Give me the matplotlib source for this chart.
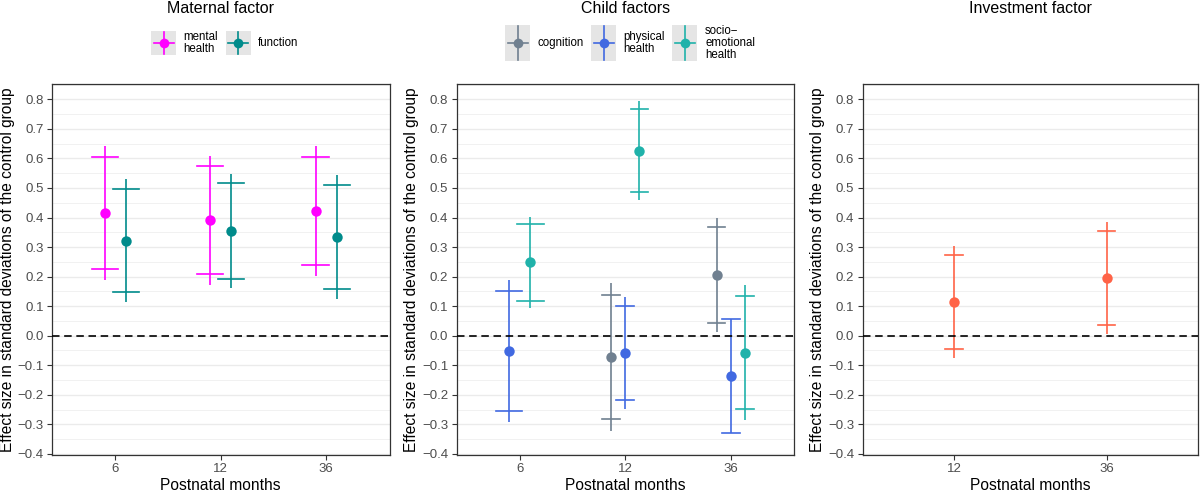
import matplotlib
matplotlib.use("Agg")
import matplotlib.pyplot as plt
from matplotlib.ticker import MultipleLocator

plt.rcParams['font.family'] = ['Liberation Sans', 'DejaVu Sans']

# ---------------- data ----------------
mat_months = ['6', '12', '36']
child_months = ['6', '12', '36']
inv_months = ['12', '36']

# Maternal factor
mental_est = [0.416, 0.391, 0.421]
mental_cap_lo = [0.225, 0.208, 0.238]
mental_cap_hi = [0.606, 0.573, 0.606]
mental_lo = [0.188, 0.173, 0.203]
mental_hi = [0.643, 0.609, 0.643]

function_est = [0.322, 0.353, 0.334]
function_cap_lo = [0.147, 0.191, 0.157]
function_cap_hi = [0.497, 0.516, 0.511]
function_lo = [0.115, 0.160, 0.124]
function_hi = [0.530, 0.547, 0.545]

# Child factors (None = not measured)
cognition_est = [None, -0.072, 0.205]
cognition_cap_lo = [None, -0.283, 0.044]
cognition_cap_hi = [None, 0.138, 0.367]
cognition_lo = [None, -0.322, 0.012]
cognition_hi = [None, 0.179, 0.397]

physical_est = [-0.052, -0.059, -0.136]
physical_cap_lo = [-0.256, -0.219, -0.330]
physical_cap_hi = [0.152, 0.102, 0.058]
physical_lo = [-0.293, -0.249, -0.330]
physical_hi = [0.189, 0.132, 0.058]

socio_est = [0.249, 0.626, -0.058]
socio_cap_lo = [0.119, 0.485, -0.249]
socio_cap_hi = [0.378, 0.768, 0.134]
socio_lo = [0.095, 0.459, -0.286]
socio_hi = [0.402, 0.795, 0.170]

# Investment factor
invest_est = [0.114, 0.195]
invest_cap_lo = [-0.046, 0.036]
invest_cap_hi = [0.274, 0.356]
invest_lo = [-0.077, 0.007]
invest_hi = [0.303, 0.384]

# colours
C_MENTAL = '#FF00FF'
C_FUNCTION = '#008B8B'
C_COG = '#708090'
C_PHYS = '#4169E1'
C_SOCIO = '#20B2AA'
C_INV = '#FF6347'

W, H = 1200, 491
fig = plt.figure(figsize=(W / 100, H / 100), dpi=100)


def px_axes(l, r, t, b):
    return fig.add_axes([l / W, (H - b) / H, (r - l) / W, (b - t) / H])


YT = [round(-0.4 + 0.1 * i, 1) for i in range(13)]


def style(ax, labels, xmax):
    ax.set_xlim(0.4, xmax)
    ax.set_ylim(-0.404, 0.852)
    ax.set_xticks(range(1, len(labels) + 1))
    ax.set_xticklabels(labels)
    ax.yaxis.set_minor_locator(MultipleLocator(0.05))
    ax.set_yticks(YT)
    ax.set_yticklabels([('%.1f' % v).replace('-', '\u2212') for v in YT])
    ax.grid(axis='y', which='major', color='#EBEBEB', lw=1.0, zorder=0)
    ax.grid(axis='y', which='minor', color='#EBEBEB', lw=0.5, zorder=0)
    ax.tick_params(axis='both', which='major', length=3.5, width=0.8,
                   color='#333333', labelcolor='#4D4D4D', labelsize=9.5, pad=2.5)
    ax.tick_params(axis='y', which='minor', length=0)
    for s in ax.spines.values():
        s.set_color('#333333')
        s.set_linewidth(0.9)
    ax.axhline(0, color='black', ls=(0, (4.5, 2.8)), lw=1.2, zorder=5)
    ax.set_xlabel('Postnatal months', fontsize=11.2, labelpad=2)
    ax.set_ylabel('Effect size in standard deviations of the control group',
                  fontsize=11.2, labelpad=2)


def draw_series(ax, xs, est, clo, chi, lo, hi, color, capw):
    for x, e, a, b, l, h, cw in zip(xs, est, clo, chi, lo, hi, capw):
        if e is None:
            continue
        ax.plot([x, x], [l, h], color=color, lw=1.2, zorder=3,
                solid_capstyle='butt')
        ax.plot([x - cw / 2, x + cw / 2], [a, a], color=color, lw=1.2, zorder=3)
        ax.plot([x - cw / 2, x + cw / 2], [b, b], color=color, lw=1.2, zorder=3)
        ax.plot([x], [e], 'o', color=color, ms=7.5, mec='none', zorder=4)


def dodge(groups, width=0.4, capbase=0.5):
    """groups: list of est lists; returns positions & cap widths per group"""
    ncat = len(groups[0])
    pos = [[None] * ncat for _ in groups]
    caps = [[None] * ncat for _ in groups]
    for c in range(ncat):
        present = [g for g in range(len(groups)) if groups[g][c] is not None]
        n = len(present)
        for i, g in enumerate(present):
            pos[g][c] = (c + 1) + (i - (n - 1) / 2) * width / n
            caps[g][c] = capbase / n
    return pos, caps


# ---------- panel 1 ----------
ax1 = px_axes(52, 389.5, 84, 455)
style(ax1, mat_months, 3.6)
p, cw = dodge([mental_est, function_est])
draw_series(ax1, p[0], mental_est, mental_cap_lo, mental_cap_hi, mental_lo, mental_hi, C_MENTAL, cw[0])
draw_series(ax1, p[1], function_est, function_cap_lo, function_cap_hi, function_lo, function_hi, C_FUNCTION, cw[1])

# ---------- panel 2 ----------
ax2 = px_axes(456.5, 794, 84, 455)
style(ax2, child_months, 3.6)
p, cw = dodge([cognition_est, physical_est, socio_est])
draw_series(ax2, p[0], cognition_est, cognition_cap_lo, cognition_cap_hi, cognition_lo, cognition_hi, C_COG, cw[0])
draw_series(ax2, p[1], physical_est, physical_cap_lo, physical_cap_hi, physical_lo, physical_hi, C_PHYS, cw[1])
draw_series(ax2, p[2], socio_est, socio_cap_lo, socio_cap_hi, socio_lo, socio_hi, C_SOCIO, cw[2])

# ---------- panel 3 ----------
ax3 = px_axes(862.5, 1198, 84, 455)
style(ax3, inv_months, 2.6)
draw_series(ax3, [1, 2], invest_est, invest_cap_lo, invest_cap_hi, invest_lo, invest_hi, C_INV, [0.115, 0.115])

# ---------- titles ----------
for ax, title in [(ax1, 'Maternal factor'), (ax2, 'Child factors'), (ax3, 'Investment factor')]:
    bb = ax.get_position()
    fig.text((bb.x0 + bb.x1) / 2, (H - 8.5) / H, title, ha='center', va='center', fontsize=11.5)


# ---------- legends ----------
def legend_key(l, t, w, h, color, label, tx):
    k = fig.add_axes([l / W, (H - t - h) / H, w / W, h / H])
    k.set_facecolor('#E5E5E5')
    k.set_xlim(0, 1)
    k.set_ylim(0, 1)
    for s in k.spines.values():
        s.set_visible(False)
    k.set_xticks([])
    k.set_yticks([])
    k.plot([0.5, 0.5], [0.03, 0.97], color=color, lw=1.2)
    k.plot([0.1, 0.9], [0.5, 0.5], color=color, lw=1.2)
    k.plot([0.5], [0.5], 'o', color=color, ms=7, mec='none')
    fig.text(tx / W, (H - t - h / 2) / H, label, ha='left', va='center',
             fontsize=8.3, linespacing=0.95)


legend_key(151, 31, 25, 24, C_MENTAL, 'mental\nhealth', 183)
legend_key(225.5, 31, 25, 24, C_FUNCTION, 'function', 257.5)

legend_key(505, 25, 25, 36, C_COG, 'cognition', 538)
legend_key(591, 25, 25, 36, C_PHYS, 'physical\nhealth', 623)
legend_key(672, 25, 25, 36, C_SOCIO, 'socio\u2212\nemotional\nhealth', 705)

fig.savefig('out.png', dpi=100)
